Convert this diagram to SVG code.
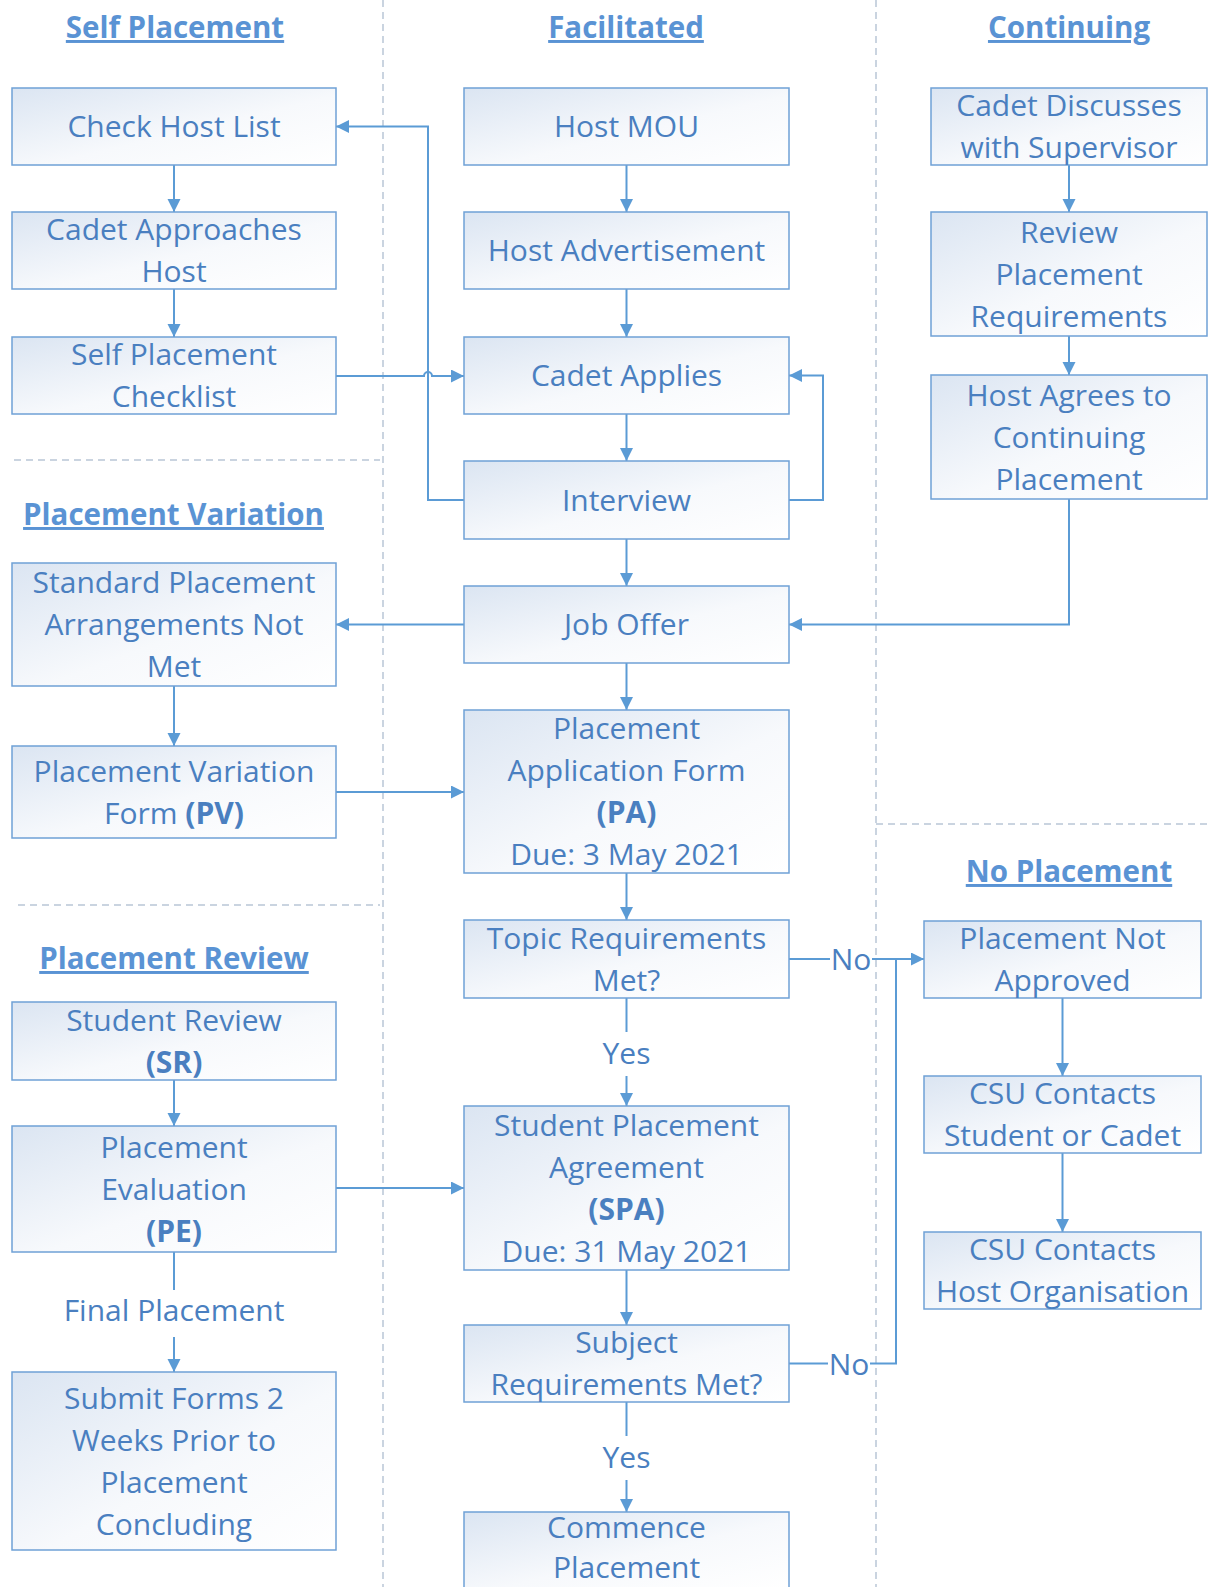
<svg xmlns="http://www.w3.org/2000/svg" width="1208" height="1587" viewBox="0 0 1208 1587">
<defs>
<linearGradient id="g" x1="0" y1="0" x2="1" y2="1">
<stop offset="0" stop-color="#dbe5f2"/>
<stop offset="0.55" stop-color="#f7f9fc"/>
<stop offset="1" stop-color="#ffffff"/>
</linearGradient>
<marker id="ah" markerUnits="userSpaceOnUse" markerWidth="14" markerHeight="14" refX="13" refY="6.5" orient="auto">
<path d="M0,0 L13,6.5 L0,13 z" fill="#5b9bd5"/>
</marker>
<style>
.box{fill:url(#g);stroke:#6fa1d6;stroke-width:1.5}
.t{font-family:"Open Sans","Noto Sans","Liberation Sans",sans-serif;font-size:30px;fill:#4a7fc0;text-anchor:middle}
.h{font-family:"Open Sans","Noto Sans","Liberation Sans",sans-serif;font-size:29.5px;font-weight:bold;fill:#5a93d4;text-anchor:middle;text-decoration:underline}
.b{font-weight:bold}
.c{fill:none;stroke:#5b9bd5;stroke-width:2}
.a{marker-end:url(#ah)}
.d{fill:none;stroke:#b9c6d6;stroke-width:1.5;stroke-dasharray:7,5}
</style>
</defs>
<rect width="1208" height="1587" fill="#ffffff"/>

<g id="dividers">
<line class="d" x1="383" y1="0" x2="383" y2="1587"/>
<line class="d" x1="876" y1="0" x2="876" y2="1587"/>
<line class="d" x1="14" y1="460" x2="380" y2="460"/>
<line class="d" x1="18" y1="905" x2="380" y2="905"/>
<line class="d" x1="876" y1="824" x2="1208" y2="824"/>
</g>

<g id="headers">
<text class="h" x="175" y="38">Self Placement</text>
<text class="h" x="626" y="38">Facilitated</text>
<text class="h" x="1069" y="38">Continuing</text>
<text class="h" x="173.5" y="525">Placement Variation</text>
<text class="h" x="1069" y="882">No Placement</text>
<text class="h" x="174" y="969">Placement Review</text>
</g>

<g id="connectors">
<line class="c a" x1="174" y1="165" x2="174" y2="212"/>
<line class="c a" x1="174" y1="289" x2="174" y2="337"/>
<line class="c a" x1="174" y1="686" x2="174" y2="746"/>
<line class="c a" x1="174" y1="1080" x2="174" y2="1126"/>
<line class="c" x1="174" y1="1252" x2="174" y2="1290"/>
<line class="c a" x1="174" y1="1337" x2="174" y2="1372"/>
<text class="t" x="174" y="1321">Final Placement</text>

<line class="c a" x1="626.5" y1="165" x2="626.5" y2="212"/>
<line class="c a" x1="626.5" y1="289" x2="626.5" y2="337"/>
<line class="c a" x1="626.5" y1="414" x2="626.5" y2="461"/>
<line class="c a" x1="626.5" y1="539" x2="626.5" y2="586"/>
<line class="c a" x1="626.5" y1="663" x2="626.5" y2="710"/>
<line class="c a" x1="626.5" y1="873" x2="626.5" y2="920"/>
<line class="c" x1="626.5" y1="998" x2="626.5" y2="1032"/>
<text class="t" x="626.5" y="1064">Yes</text>
<line class="c a" x1="626.5" y1="1076" x2="626.5" y2="1106"/>
<line class="c a" x1="626.5" y1="1270" x2="626.5" y2="1325"/>
<line class="c" x1="626.5" y1="1402" x2="626.5" y2="1436"/>
<text class="t" x="626.5" y="1468">Yes</text>
<line class="c a" x1="626.5" y1="1480" x2="626.5" y2="1512"/>

<line class="c a" x1="1069" y1="165" x2="1069" y2="212"/>
<line class="c a" x1="1069" y1="336" x2="1069" y2="375"/>
<path class="c a" d="M1069,499 V624.5 H789"/>

<line class="c a" x1="1062.5" y1="998" x2="1062.5" y2="1076"/>
<line class="c a" x1="1062.5" y1="1153" x2="1062.5" y2="1232"/>

<path class="c a" d="M336,376 H424 A4,4 0 0 1 432,376 H464"/>
<path class="c a" d="M464,500 H428 V126.5 H336"/>
<path class="c a" d="M789,500 H823 V375.5 H789"/>
<line class="c a" x1="464" y1="624.5" x2="336" y2="624.5"/>
<line class="c a" x1="336" y1="792" x2="464" y2="792"/>
<line class="c a" x1="336" y1="1188" x2="464" y2="1188"/>

<line class="c" x1="789" y1="959" x2="830" y2="959"/>
<text class="t" x="851" y="970">No</text>
<line class="c a" x1="872" y1="959" x2="924" y2="959"/>
<line class="c" x1="789" y1="1363.5" x2="828" y2="1363.5"/>
<text class="t" x="849" y="1374.5">No</text>
<path class="c" d="M870,1363.5 H896 V959"/>
</g>

<g id="n-check-host-list"><rect class="box" x="12" y="88" width="324" height="77"/><text class="t" x="174" y="137">Check Host List</text></g>
<g id="n-cadet-approaches"><rect class="box" x="12" y="212" width="324" height="77"/><text class="t" x="174" y="240">Cadet Approaches</text><text class="t" x="174" y="282">Host</text></g>
<g id="n-self-checklist"><rect class="box" x="12" y="337" width="324" height="77"/><text class="t" x="174" y="365">Self Placement</text><text class="t" x="174" y="407">Checklist</text></g>
<g id="n-standard"><rect class="box" x="12" y="563" width="324" height="123"/><text class="t" x="174" y="593">Standard Placement</text><text class="t" x="174" y="635">Arrangements Not</text><text class="t" x="174" y="677">Met</text></g>
<g id="n-pv-form"><rect class="box" x="12" y="746" width="324" height="92"/><text class="t" x="174" y="781.5">Placement Variation</text><text class="t" x="174" y="823.5">Form <tspan class="b">(PV)</tspan></text></g>
<g id="n-student-review"><rect class="box" x="12" y="1002" width="324" height="78"/><text class="t" x="174" y="1030.5">Student Review</text><text class="t b" x="174" y="1072.5">(SR)</text></g>
<g id="n-pe"><rect class="box" x="12" y="1126" width="324" height="126"/><text class="t" x="174" y="1157.5">Placement</text><text class="t" x="174" y="1199.5">Evaluation</text><text class="t b" x="174" y="1241.5">(PE)</text></g>
<g id="n-submit"><rect class="box" x="12" y="1372" width="324" height="178"/><text class="t" x="174" y="1408.5">Submit Forms 2</text><text class="t" x="174" y="1450.5">Weeks Prior to</text><text class="t" x="174" y="1492.5">Placement</text><text class="t" x="174" y="1534.5">Concluding</text></g>

<g id="n-host-mou"><rect class="box" x="464" y="88" width="325" height="77"/><text class="t" x="626.5" y="137">Host MOU</text></g>
<g id="n-host-ad"><rect class="box" x="464" y="212" width="325" height="77"/><text class="t" x="626.5" y="261">Host Advertisement</text></g>
<g id="n-cadet-applies"><rect class="box" x="464" y="337" width="325" height="77"/><text class="t" x="626.5" y="386">Cadet Applies</text></g>
<g id="n-interview"><rect class="box" x="464" y="461" width="325" height="78"/><text class="t" x="626.5" y="510.5">Interview</text></g>
<g id="n-job-offer"><rect class="box" x="464" y="586" width="325" height="77"/><text class="t" x="626.5" y="635">Job Offer</text></g>
<g id="n-pa"><rect class="box" x="464" y="710" width="325" height="163"/><text class="t" x="626.5" y="739">Placement</text><text class="t" x="626.5" y="781">Application Form</text><text class="t b" x="626.5" y="823">(PA)</text><text class="t" x="626.5" y="865">Due: 3 May 2021</text></g>
<g id="n-topic"><rect class="box" x="464" y="920" width="325" height="78"/><text class="t" x="626.5" y="948.5">Topic Requirements</text><text class="t" x="626.5" y="990.5">Met?</text></g>
<g id="n-spa"><rect class="box" x="464" y="1106" width="325" height="164"/><text class="t" x="626.5" y="1135.5">Student Placement</text><text class="t" x="626.5" y="1177.5">Agreement</text><text class="t b" x="626.5" y="1219.5">(SPA)</text><text class="t" x="626.5" y="1261.5">Due: 31 May 2021</text></g>
<g id="n-subject"><rect class="box" x="464" y="1325" width="325" height="77"/><text class="t" x="626.5" y="1353">Subject</text><text class="t" x="626.5" y="1395">Requirements Met?</text></g>
<g id="n-commence"><rect class="box" x="464" y="1512" width="325" height="77"/><text class="t" x="626.5" y="1538">Commence</text><text class="t" x="626.5" y="1578">Placement</text></g>

<g id="n-cadet-discusses"><rect class="box" x="931" y="88" width="276" height="77"/><text class="t" x="1069" y="116">Cadet Discusses</text><text class="t" x="1069" y="158">with Supervisor</text></g>
<g id="n-review"><rect class="box" x="931" y="212" width="276" height="124"/><text class="t" x="1069" y="242.5">Review</text><text class="t" x="1069" y="284.5">Placement</text><text class="t" x="1069" y="326.5">Requirements</text></g>
<g id="n-host-agrees"><rect class="box" x="931" y="375" width="276" height="124"/><text class="t" x="1069" y="405.5">Host Agrees to</text><text class="t" x="1069" y="447.5">Continuing</text><text class="t" x="1069" y="489.5">Placement</text></g>

<g id="n-not-approved"><rect class="box" x="924" y="921" width="277" height="77"/><text class="t" x="1062.5" y="949">Placement Not</text><text class="t" x="1062.5" y="991">Approved</text></g>
<g id="n-csu-student"><rect class="box" x="924" y="1076" width="277" height="77"/><text class="t" x="1062.5" y="1104">CSU Contacts</text><text class="t" x="1062.5" y="1146">Student or Cadet</text></g>
<g id="n-csu-host"><rect class="box" x="924" y="1232" width="277" height="77"/><text class="t" x="1062.5" y="1260">CSU Contacts</text><text class="t" x="1062.5" y="1302">Host Organisation</text></g>
</svg>
